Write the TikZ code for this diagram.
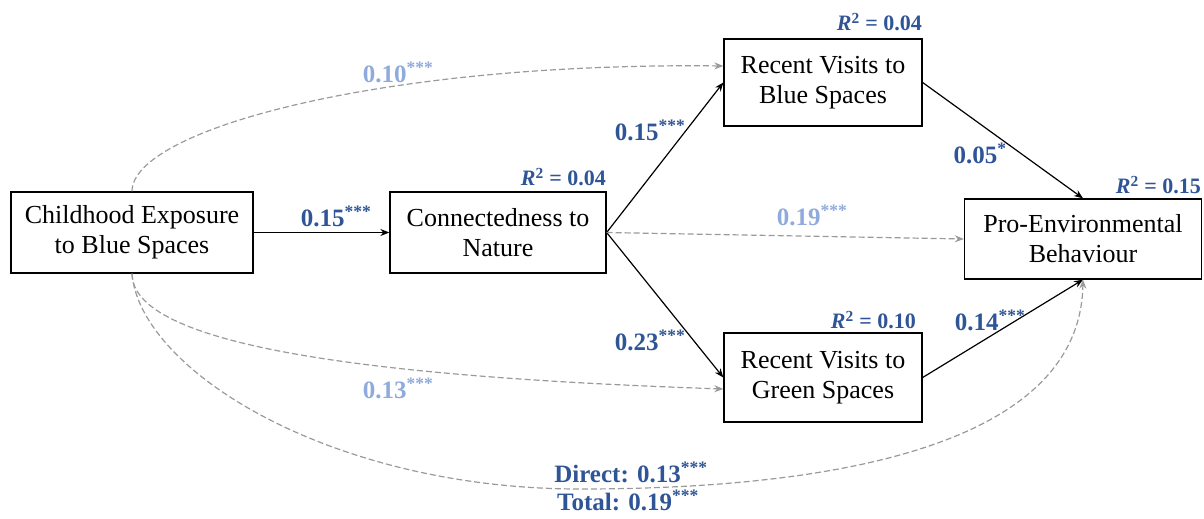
\documentclass[tikz,border=0pt]{standalone}
\usepackage{fontspec}
\setmainfont{Liberation Serif}
\usetikzlibrary{arrows.meta}
\definecolor{dblue}{HTML}{2F5597}
\definecolor{lblue}{HTML}{8FAADC}
\definecolor{dgray}{HTML}{9A9A9A}
\begin{document}
\begin{tikzpicture}[x=1pt,y=-1pt,
  box/.style={draw, line width=1.3pt, align=center, inner sep=0pt,
    font=\fontsize{26}{30}\selectfont},
  solidarrow/.style={draw, line width=1.2pt, -{Stealth[length=9pt,width=7pt]}},
  dasharrow/.style={draw=dgray, line width=1.2pt, dash pattern=on 6pt off 3pt,
    -{Stealth[length=9pt,width=7pt]}},
  coef/.style={text=dblue, font=\fontsize{25}{28}\selectfont\bfseries, inner sep=0pt},
  lcoef/.style={text=lblue, font=\fontsize{25}{28}\selectfont\bfseries, inner sep=0pt},
  rsq/.style={text=dblue, font=\fontsize{22}{24}\selectfont\bfseries, inner sep=0pt, anchor=east}
]
\useasboundingbox (0,0) rectangle (1204,519);

% nodes
\node[box, minimum width=242pt, minimum height=81pt] (child) at (132,232.5)
  {Childhood Exposure\\to Blue Spaces};
\node[box, minimum width=216pt, minimum height=81pt] (conn) at (498,232.5)
  {Connectedness to\\Nature};
\node[box, minimum width=198pt, minimum height=87pt] (blue) at (823,82.5)
  {Recent Visits to\\Blue Spaces};
\node[box, minimum width=198pt, minimum height=89pt] (green) at (823,377.5)
  {Recent Visits to\\Green Spaces};
\node[box, minimum width=237pt, minimum height=80pt] (peb) at (1083,239)
  {Pro-Environmental\\Behaviour};

% solid paths
\draw[solidarrow] (child.east) -- (conn.west);
\draw[solidarrow] (conn.east) -- (blue.west);
\draw[solidarrow] (conn.east) -- (green.west);
\draw[solidarrow] (blue.east) -- (peb.north);
\draw[solidarrow] (green.east) -- (peb.south);

% dashed paths
\draw[dasharrow] (conn.east) -- (peb.west);
\draw[dasharrow] (child.north) .. controls (132,130) and (380,62) .. ([yshift=16.5pt]blue.west);
\draw[dasharrow] (child.south) .. controls (132,350) and (400,378) .. ([yshift=-11.5pt]green.west);
\draw[dasharrow] (child.south) .. controls (140,370) and (330,489) .. (580,489)
  .. controls (850,489) and (1080,440) .. (peb.south);

% coefficients
\node[coef] (c1) at (336,216) {0.15\textsuperscript{***}};
\node[coef] (c2) at (650,130) {0.15\textsuperscript{***}};
\node[coef] (c3) at (650,340) {0.23\textsuperscript{***}};
\node[coef] (c4) at (980,153) {0.05\textsuperscript{*}};
\node[coef] (c5) at (990,320) {0.14\textsuperscript{***}};
\node[lcoef] (c6) at (812,215) {0.19\textsuperscript{***}};
\node[lcoef] (c7) at (398,72) {0.10\textsuperscript{***}};
\node[lcoef] (c8) at (398,388) {0.13\textsuperscript{***}};
\node[coef] (c9) at (631,472) {Direct: 0.13\textsuperscript{***}};
\node[coef] (c10) at (628,500) {Total: 0.19\textsuperscript{***}};

% R squared
\node[rsq] (r1) at (606,177) {\textit{R}\textsuperscript{2} = 0.04};
\node[rsq] (r2) at (922,22) {\textit{R}\textsuperscript{2} = 0.04};
\node[rsq] (r3) at (1201,185) {\textit{R}\textsuperscript{2} = 0.15};
\node[rsq] (r4) at (916,320) {\textit{R}\textsuperscript{2} = 0.10};
\end{tikzpicture}
\end{document}
